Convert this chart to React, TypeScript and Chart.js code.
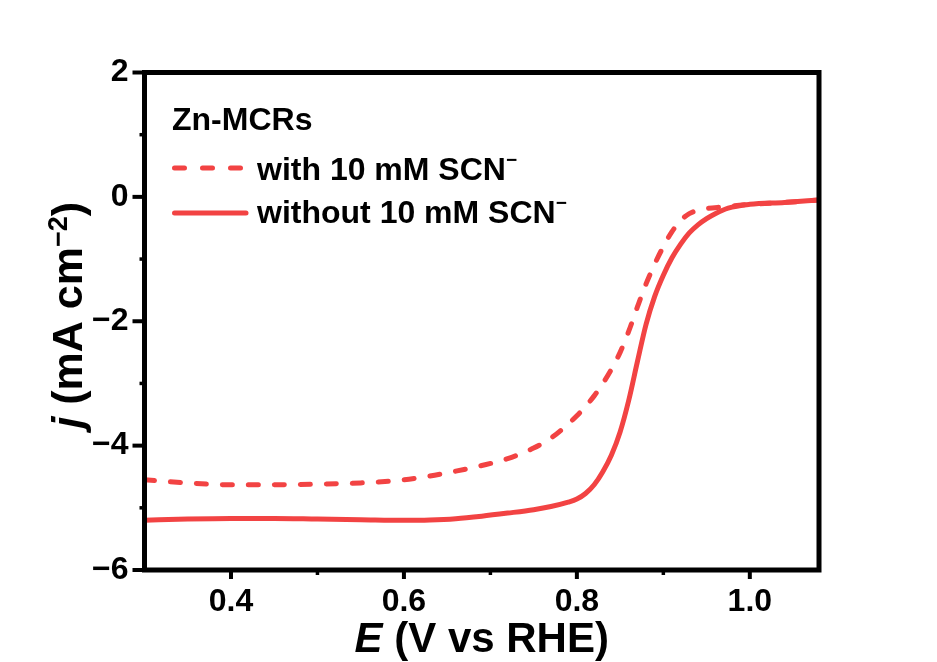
import React, { useEffect, useRef } from 'react';
import { Chart, registerables } from 'chart.js';

Chart.register(...registerables);

// Linear sweep voltammetry of Zn-MCRs, potential E (V vs RHE) vs current density j (mA cm^-2)
const withScnE = [0.30, 0.35, 0.40, 0.45, 0.50, 0.55, 0.60, 0.63, 0.66, 0.69, 0.72, 0.75, 0.77, 0.79, 0.80, 0.81, 0.82, 0.83, 0.84, 0.85, 0.86, 0.87, 0.88, 0.89, 0.90, 0.91, 0.92, 0.93, 0.945, 0.97, 1.00, 1.04, 1.08];
const withScnJ = [-4.55, -4.60, -4.63, -4.63, -4.62, -4.60, -4.55, -4.49, -4.41, -4.32, -4.21, -4.04, -3.88, -3.65, -3.52, -3.37, -3.20, -3.00, -2.77, -2.50, -2.16, -1.77, -1.40, -1.08, -0.80, -0.56, -0.38, -0.27, -0.20, -0.16, -0.12, -0.09, -0.05];

const withoutScnE = [0.30, 0.35, 0.40, 0.45, 0.50, 0.55, 0.60, 0.63, 0.66, 0.69, 0.72, 0.75, 0.77, 0.79, 0.80, 0.81, 0.82, 0.83, 0.84, 0.85, 0.86, 0.87, 0.88, 0.89, 0.90, 0.91, 0.92, 0.93, 0.94, 0.95, 0.96, 0.975, 1.00, 1.04, 1.08];
const withoutScnJ = [-5.20, -5.18, -5.17, -5.17, -5.18, -5.19, -5.20, -5.195, -5.175, -5.135, -5.085, -5.03, -4.98, -4.91, -4.86, -4.77, -4.63, -4.42, -4.15, -3.78, -3.27, -2.65, -2.05, -1.60, -1.26, -0.98, -0.76, -0.58, -0.45, -0.35, -0.27, -0.18, -0.12, -0.09, -0.05];

const xMajorTicks = [0.4, 0.6, 0.8, 1.0];
const xMinorTicks = [0.5, 0.7, 0.9];
const yMajorTicks = [2, 0, -2, -4, -6];
const yMinorTicks = [1, -1, -3, -5];

const legendTitle = 'Zn-MCRs';
const seriesLabels = ['with 10 mM SCN', 'without 10 mM SCN'];

const RED = '#f24343';
const FONT = '"Liberation Sans", Arial, Helvetica, sans-serif';
const DASH = [10, 16];

type Part = { t: string; font: string; dy?: number };

function drawRich(ctx: CanvasRenderingContext2D, parts: Part[], x: number, y: number, align: 'left' | 'center') {
  let total = 0;
  for (const p of parts) {
    ctx.font = p.font;
    total += ctx.measureText(p.t).width;
  }
  let cx = align === 'center' ? x - total / 2 : x;
  ctx.textAlign = 'left';
  ctx.textBaseline = 'alphabetic';
  for (const p of parts) {
    ctx.font = p.font;
    ctx.fillText(p.t, cx, y + (p.dy || 0));
    cx += ctx.measureText(p.t).width;
  }
}

const decorations = {
  id: 'decorations',
  afterDraw(chart: any) {
    const { ctx, chartArea: a, scales } = chart;
    const xs = scales.x;
    const ys = scales.y;
    ctx.save();
    ctx.strokeStyle = '#000';
    ctx.fillStyle = '#000';
    ctx.lineCap = 'butt';

    // outward tick marks
    ctx.lineWidth = 4;
    for (const v of xMajorTicks) {
      const px = xs.getPixelForValue(v);
      ctx.beginPath(); ctx.moveTo(px, a.bottom); ctx.lineTo(px, a.bottom + 9); ctx.stroke();
    }
    for (const v of yMajorTicks) {
      const py = ys.getPixelForValue(v);
      ctx.beginPath(); ctx.moveTo(a.left, py); ctx.lineTo(a.left - 12, py); ctx.stroke();
    }
    ctx.lineWidth = 3.5;
    for (const v of xMinorTicks) {
      const px = xs.getPixelForValue(v);
      ctx.beginPath(); ctx.moveTo(px, a.bottom); ctx.lineTo(px, a.bottom + 5); ctx.stroke();
    }
    for (const v of yMinorTicks) {
      const py = ys.getPixelForValue(v);
      ctx.beginPath(); ctx.moveTo(a.left, py); ctx.lineTo(a.left - 5, py); ctx.stroke();
    }

    // plot frame
    ctx.lineWidth = 5;
    ctx.strokeRect(a.left, a.top, a.right - a.left, a.bottom - a.top);

    // axis titles
    drawRich(ctx, [
      { t: 'E', font: `italic bold 42px ${FONT}` },
      { t: ' (V vs RHE)', font: `bold 42px ${FONT}` },
    ], (a.left + a.right) / 2, 652, 'center');

    ctx.save();
    ctx.translate(82, (a.top + a.bottom) / 2 - 6);
    ctx.rotate(-Math.PI / 2);
    drawRich(ctx, [
      { t: 'j', font: `italic bold 43px ${FONT}` },
      { t: ' (mA cm', font: `bold 43px ${FONT}` },
      { t: '\u22122', font: `bold 27px ${FONT}`, dy: -15 },
      { t: ')', font: `bold 43px ${FONT}` },
    ], 0, 0, 'center');
    ctx.restore();

    // legend
    ctx.font = `bold 32px ${FONT}`;
    ctx.textAlign = 'left';
    ctx.textBaseline = 'alphabetic';
    ctx.fillText(legendTitle, 172, 130);

    const rows = [
      { y: 168, base: 180, dash: [10, 18], x1: 174.5, x2: 240.5 },
      { y: 213, base: 223, dash: [] as number[], x1: 174.5, x2: 246 },
    ];
    rows.forEach((r, i) => {
      ctx.save();
      ctx.strokeStyle = RED;
      ctx.lineWidth = 5;
      ctx.lineCap = 'round';
      ctx.setLineDash(r.dash);
      ctx.beginPath(); ctx.moveTo(r.x1, r.y); ctx.lineTo(r.x2, r.y); ctx.stroke();
      ctx.restore();
      drawRich(ctx, [
        { t: seriesLabels[i], font: `bold 32px ${FONT}` },
        { t: '\u2212', font: `bold 19px ${FONT}`, dy: -14 },
      ], 257, r.base, 'left');
    });

    ctx.restore();
  },
};

export default function App() {
  const ref = useRef<HTMLCanvasElement | null>(null);

  useEffect(() => {
    if (!ref.current) return;
    const chart = new Chart(ref.current, {
      type: 'line',
      data: {
        datasets: [
          {
            label: seriesLabels[0],
            data: withScnE.map((x, i) => ({ x, y: withScnJ[i] })),
            borderColor: RED,
            borderWidth: 5,
            borderDash: DASH,
            borderCapStyle: 'round',
            borderJoinStyle: 'round',
            pointRadius: 0,
            cubicInterpolationMode: 'monotone',
            fill: false,
          },
          {
            label: seriesLabels[1],
            data: withoutScnE.map((x, i) => ({ x, y: withoutScnJ[i] })),
            borderColor: RED,
            borderWidth: 5,
            borderCapStyle: 'round',
            borderJoinStyle: 'round',
            pointRadius: 0,
            cubicInterpolationMode: 'monotone',
            fill: false,
          },
        ],
      },
      options: {
        responsive: false,
        devicePixelRatio: 1,
        animation: false,
        layout: { padding: { top: 72.5, right: 118, left: 0, bottom: 0 } },
        plugins: { legend: { display: false }, tooltip: { enabled: false } },
        scales: {
          x: {
            type: 'linear',
            min: 0.3,
            max: 1.08,
            grid: { display: false, drawTicks: false },
            border: { display: false },
            afterBuildTicks: (s: any) => { s.ticks = xMajorTicks.map((value) => ({ value })); },
            afterFit: (s: any) => { s.height = 92; },
            ticks: {
              padding: 13,
              color: '#000',
              font: { family: FONT, size: 32, weight: 'bold' },
              callback: (v: any) => Number(v).toFixed(1),
            },
          },
          y: {
            type: 'linear',
            min: -6,
            max: 2,
            grid: { display: false, drawTicks: false },
            border: { display: false },
            afterBuildTicks: (s: any) => { s.ticks = yMajorTicks.map((value) => ({ value })); },
            afterFit: (s: any) => { s.width = 144.5; },
            ticks: {
              padding: 16,
              color: '#000',
              font: { family: FONT, size: 32, weight: 'bold' },
              callback: (v: any) => (Number(v) < 0 ? '\u2212' + Math.abs(Number(v)) : String(v)),
            },
          },
        },
      },
      plugins: [decorations],
    } as any);
    return () => chart.destroy();
  }, []);

  return (
    <div style={{ position: 'fixed', left: 0, top: 0, width: 937, height: 662, background: '#fff' }}>
      <canvas ref={ref} width={937} height={662} style={{ display: 'block' }} />
    </div>
  );
}
